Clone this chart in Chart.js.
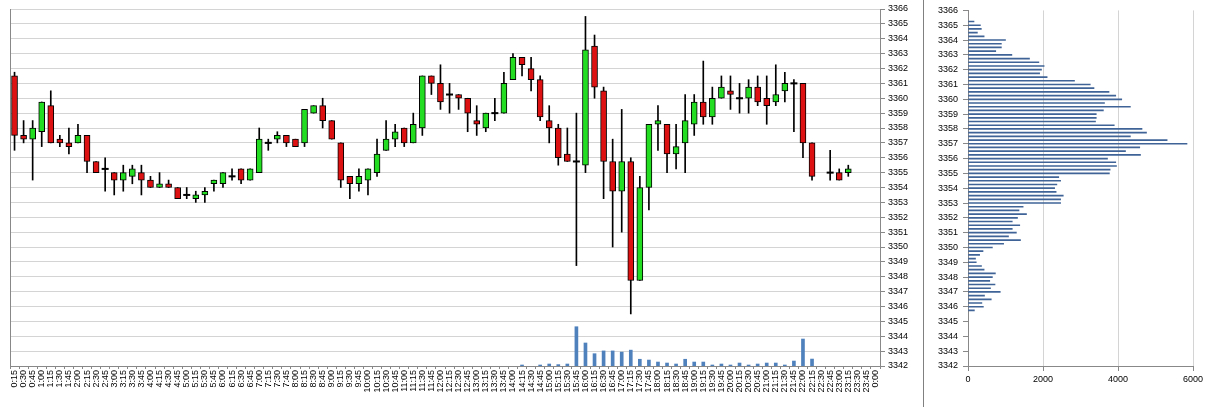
<!DOCTYPE html>
<html><head><meta charset="utf-8">
<script src="https://cdn.jsdelivr.net/npm/chart.js@4/dist/chart.umd.min.js"></script>
<style>
html,body{margin:0;padding:0;background:#fff;}
#wrap{position:relative;width:1211px;height:407px;overflow:hidden;}
#left{position:absolute;left:0;top:0;width:923px;height:407px;}
#right{position:absolute;left:924px;top:0;width:287px;height:407px;}
#sep{position:absolute;left:923px;top:0;width:1px;height:407px;background:#808080;}
canvas{display:block;}
</style></head><body>
<div id="wrap">
<div id="left"><canvas id="c1" width="923" height="407"></canvas></div>
<div id="sep"></div>
<div id="right"><canvas id="c2" width="287" height="407"></canvas></div>
</div>
<script>
const times = ["0:15","0:30","0:45","1:00","1:15","1:30","1:45","2:00","2:15","2:30","2:45","3:00","3:15","3:30","3:45","4:00","4:15","4:30","4:45","5:00","5:15","5:30","5:45","6:00","6:15","6:30","6:45","7:00","7:15","7:30","7:45","8:00","8:15","8:30","8:45","9:00","9:15","9:30","9:45","10:00","10:15","10:30","10:45","11:00","11:15","11:30","11:45","12:00","12:15","12:30","12:45","13:00","13:15","13:30","13:45","14:00","14:15","14:30","14:45","15:00","15:15","15:30","15:45","16:00","16:15","16:30","16:45","17:00","17:15","17:30","17:45","18:00","18:15","18:30","18:45","19:00","19:15","19:30","19:45","20:00","20:15","20:30","20:45","21:00","21:15","21:30","21:45","22:00","22:15","22:30","22:45","23:00","23:15","23:30","23:45","0:00"];

const opens = [3361.5,3357.5,3357.25,3357.75,3359.5,3357.25,3357.0,3357.0,3357.5,3355.75,3355.25,3355.0,3354.5,3354.75,3355.0,3354.5,3354.0,3354.25,3354.0,3353.5,3353.25,3353.5,3354.25,3354.25,
3354.75,3355.25,3354.5,3355.0,3357.0,3357.25,3357.5,3357.25,3357.0,3359.0,3359.5,3358.5,3357.0,3354.75,3354.25,3354.5,3355.0,3356.5,3357.25,3358.0,3357.0,3358.0,3361.5,3361.0,
3360.25,3360.25,3360.0,3358.5,3358.0,3359.0,3359.0,3361.25,3362.75,3362.0,3361.25,3358.5,3358.0,3356.25,3355.75,3355.5,3363.5,3360.5,3355.75,3353.75,3355.75,3347.75,3354.0,3358.25,
3358.25,3356.25,3357.0,3358.25,3359.75,3358.75,3360.0,3360.5,3360.0,3360.0,3360.75,3360.0,3359.75,3360.5,3361.0,3361.0,3357.0,null,3355.0,3355.0,3355.0,null,null,null];

const highs = [3361.75,3358.5,3358.5,3359.75,3360.5,3357.5,3358.0,3358.25,3357.5,3355.75,3356.0,3355.0,3355.5,3355.5,3355.5,3354.75,3355.0,3354.5,3354.0,3354.0,3353.75,3354.0,3354.5,3355.0,
3355.25,3355.25,3355.25,3358.0,3357.25,3357.75,3357.5,3357.25,3359.25,3359.5,3360.0,3358.5,3357.0,3354.75,3355.25,3355.25,3357.25,3358.5,3358.25,3358.0,3359.0,3361.5,3361.5,3362.25,
3361.0,3360.25,3360.0,3359.5,3359.0,3360.0,3361.75,3363.0,3362.75,3362.75,3361.5,3359.5,3358.25,3358.0,3359.0,3365.5,3364.25,3360.75,3357.25,3359.25,3356.0,3354.75,3358.25,3359.5,
3358.25,3358.25,3360.25,3360.25,3362.5,3360.75,3361.5,3361.5,3361.0,3361.25,3361.5,3361.5,3362.25,3361.75,3361.25,3361.0,3357.0,null,3356.5,3355.25,3355.5,null,null,null];

const lows = [3356.5,3357.0,3354.5,3356.75,3357.0,3356.75,3356.25,3357.0,3355.0,3355.0,3353.75,3353.5,3353.75,3354.25,3353.5,3354.0,3354.0,3354.0,3353.25,3353.25,3353.0,3353.0,3353.75,3354.0,
3354.5,3354.25,3354.5,3355.0,3356.5,3357.0,3356.75,3356.75,3356.75,3359.0,3358.0,3357.25,3354.0,3353.25,3353.75,3353.5,3354.75,3356.5,3356.75,3356.75,3357.0,3357.5,3360.25,3359.25,
3359.0,3359.25,3357.75,3357.5,3357.75,3358.5,3359.0,3361.25,3361.5,3360.5,3358.5,3357.0,3355.5,3355.75,3348.75,3355.0,3360.0,3353.25,3350.0,3351.0,3345.5,3347.75,3352.5,3356.5,
3355.0,3355.25,3355.0,3357.5,3358.25,3358.25,3360.0,3359.25,3359.0,3359.0,3359.5,3358.25,3359.5,3359.75,3357.75,3356.0,3354.5,null,3354.5,3354.5,3354.75,null,null,null];

const closes = [3357.5,3357.25,3358.0,3359.75,3357.0,3357.0,3356.75,3357.5,3355.75,3355.0,3355.25,3354.5,3355.0,3355.25,3354.5,3354.0,3354.25,3354.0,3353.25,3353.5,3353.5,3353.75,3354.5,3355.0,
3354.75,3354.5,3355.25,3357.25,3357.0,3357.5,3357.0,3356.75,3359.25,3359.5,3358.5,3357.25,3354.5,3354.25,3354.75,3355.25,3356.25,3357.25,3357.75,3357.0,3358.25,3361.5,3361.0,3359.75,
3360.25,3360.0,3359.0,3358.25,3359.0,3359.0,3361.0,3362.75,3362.25,3361.25,3358.75,3358.0,3356.0,3355.75,3355.75,3363.25,3360.75,3355.75,3353.75,3355.75,3347.75,3354.0,3358.25,3358.5,
3356.25,3356.75,3358.5,3359.75,3358.75,3360.0,3360.75,3360.25,3360.0,3360.75,3359.75,3359.5,3360.25,3361.0,3361.0,3357.0,3354.75,null,3355.0,3354.5,3355.25,null,null,null];

const volumes = [null,null,null,null,null,null,null,null,null,null,null,null,null,null,null,null,null,null,null,null,null,null,null,null,
null,null,null,null,null,null,null,null,null,null,null,null,null,null,null,null,null,null,null,null,null,null,null,null,
null,null,null,null,null,null,null,null,250,null,250,500,350,500,9900,5800,3100,3800,3800,3500,4000,1700,1500,1000,
750,500,1700,1000,1000,250,500,250,750,250,500,750,750,250,1250,6800,1750,null,null,null,null,null,null,null];

const profilePrices = [3365.25,3365.0,3364.75,3364.5,3364.25,3364.0,3363.75,3363.5,3363.25,3363.0,3362.75,3362.5,3362.25,3362.0,3361.75,3361.5,3361.25,3361.0,3360.75,3360.5,3360.25,3360.0,3359.75,3359.5,3359.25,3359.0,3358.75,3358.5,3358.25,3358.0,3357.75,3357.5,3357.25,3357.0,3356.75,3356.5,3356.25,3356.0,3355.75,3355.5,3355.25,3355.0,3354.75,3354.5,3354.25,3354.0,3353.75,3353.5,3353.25,3353.0,3352.75,3352.5,3352.25,3352.0,3351.75,3351.5,3351.25,3351.0,3350.75,3350.5,3350.25,3350.0,3349.75,3349.5,3349.25,3349.0,3348.75,3348.5,3348.25,3348.0,3347.75,3347.5,3347.25,3347.0,3346.75,3346.5,3346.25,3346.0,3345.75];
const profileVolumes = [160,330,355,250,430,1000,890,890,740,1170,1640,1890,2030,1960,1910,2110,2840,3260,3360,3760,3940,4100,3640,4330,3610,3420,3420,3400,3900,4640,4760,4330,5310,5840,4580,4200,4600,3720,3940,3960,3790,3770,2420,2470,2370,2310,2350,2540,2470,2470,1470,1360,1560,1320,1180,1380,1180,1290,1080,1400,950,650,400,310,200,220,360,430,730,650,580,720,600,860,440,620,370,410,170];

Chart.defaults.font.family = "'Liberation Sans', Arial, sans-serif";
Chart.defaults.font.size = 9;
Chart.defaults.color = '#000';

const plain = (v) => String(v);

const wicks = opens.map((o, i) => o == null ? null : [lows[i], highs[i]]);
const bodies = opens.map((o, i) => (o == null || o === closes[i]) ? null : [o, closes[i]]);
const dojis = opens.map((o, i) => (o != null && o === closes[i]) ? o : null);
const bodyColors = opens.map((o, i) => (o == null) ? '#000' : (closes[i] >= o ? '#22dd22' : '#dd1111'));

new Chart(document.getElementById('c1'), {
  type: 'bar',
  data: {
    labels: times,
    datasets: [
      { type: 'bar', data: volumes, yAxisID: 'yVol', backgroundColor: '#4f81bd', barThickness: 3, grouped: false, order: 4 },
      { type: 'bar', data: wicks, yAxisID: 'y', backgroundColor: '#000', barThickness: 1, grouped: false, order: 3 },
      { type: 'bar', data: bodies, yAxisID: 'y', backgroundColor: bodyColors, borderColor: '#000', borderWidth: 1, borderSkipped: false, barThickness: 6, grouped: false, order: 2 },
      { type: 'line', data: dojis, yAxisID: 'y', showLine: false, pointStyle: 'line', pointRadius: 3.5, pointBorderColor: '#000', pointBorderWidth: 2, borderColor: '#000', order: 1 }
    ]
  },
  options: {
    responsive: false, animation: false,
    layout: { padding: { left: 10, top: 9, right: 0, bottom: 0 } },
    plugins: { legend: { display: false }, tooltip: { enabled: false } },
    scales: {
      x: {
        offset: true,
        grid: { offset: true, drawOnChartArea: false, drawTicks: true, tickLength: 3, color: '#888', tickColor: '#888' },
        border: { color: '#888' },
        ticks: { autoSkip: false, maxRotation: 90, minRotation: 90, padding: 1, font: { size: 9 } },
        afterFit(s) { s.height = 41; }
      },
      y: {
        position: 'right', min: 3342, max: 3366,
        ticks: { stepSize: 1, autoSkip: false, padding: 3, callback: plain },
        grid: { color: '#d4d4d4', tickColor: '#888', tickLength: 5 },
        border: { color: '#888' },
        afterFit(s) { s.width = 43; }
      },
      yVol: {
        position: 'left', min: 0, max: 90000,
        ticks: { display: false },
        grid: { display: false, drawTicks: false },
        border: { display: true, color: '#888' },
        afterFit(s) { s.width = 0; }
      }
    }
  }
});

new Chart(document.getElementById('c2'), {
  type: 'bar',
  data: {
    datasets: [{
      data: profilePrices.map((p, i) => ({ x: profileVolumes[i], y: p })),
      backgroundColor: '#3f6396', barThickness: 1
    }]
  },
  options: {
    indexAxis: 'y', responsive: false, animation: false,
    layout: { padding: { left: 0, top: 9, right: 18, bottom: 0 } },
    plugins: { legend: { display: false }, tooltip: { enabled: false } },
    scales: {
      x: {
        type: 'linear', min: 0, max: 6000,
        ticks: { stepSize: 2000, padding: 3, callback: plain },
        grid: { color: '#d4d4d4', tickColor: '#888', tickLength: 5 },
        border: { color: '#888' },
        afterFit(s) { s.height = 41; }
      },
      y: {
        type: 'linear', min: 3342, max: 3366, offset: false,
        ticks: { stepSize: 1, autoSkip: false, padding: 5, callback: plain },
        grid: { drawOnChartArea: false, tickColor: '#888', tickLength: 5, offset: false },
        border: { color: '#888' },
        afterFit(s) { s.width = 44; }
      }
    }
  }
});
</script>
</body></html>
